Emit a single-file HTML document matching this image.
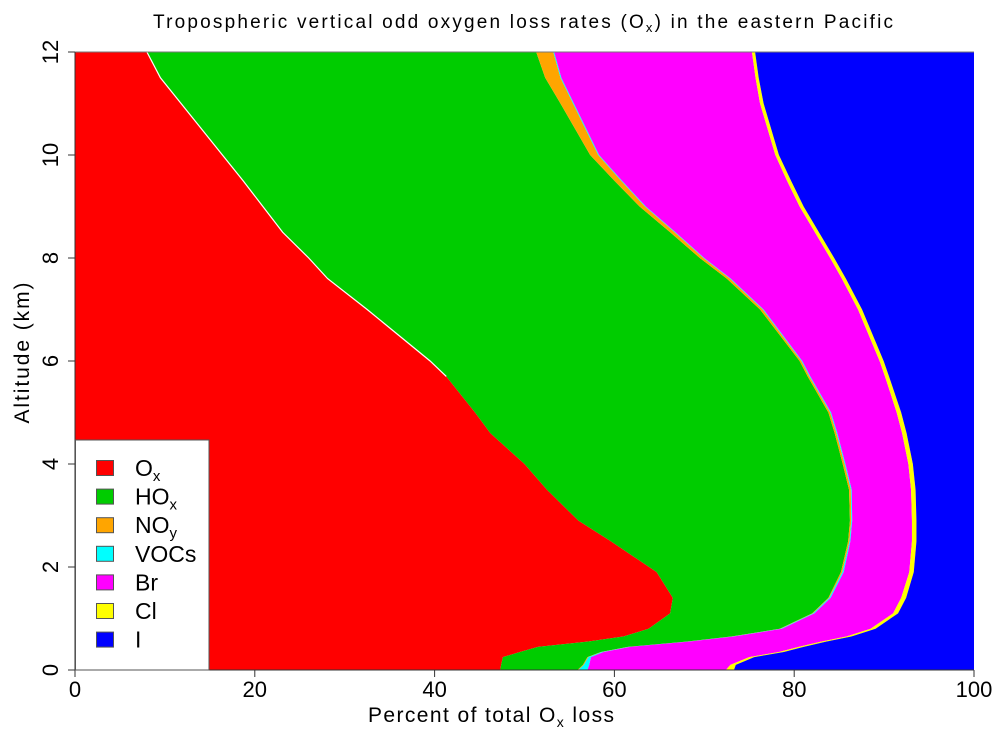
<!DOCTYPE html>
<html><head><meta charset="utf-8"><style>
body{margin:0;background:#fff;}
svg{display:block;font-family:"Liberation Sans",sans-serif;}
</style></head><body>
<svg id="chart" width="1005" height="737">
<text x="523" y="28" text-anchor="middle" font-size="19" textLength="740" lengthAdjust="spacing">Tropospheric vertical odd oxygen loss rates (O<tspan font-size="13" dy="4">x</tspan><tspan dy="-4">) in the eastern Pacific</tspan></text>
<g id="plot"></g>
<g id="axes"></g>
<text x="491" y="722" text-anchor="middle" font-size="21" textLength="246" lengthAdjust="spacing">Percent of total O<tspan font-size="14" dy="5">x</tspan><tspan dy="-5"> loss</tspan></text>
<text transform="translate(29,353) rotate(-90)" text-anchor="middle" font-size="21" textLength="141" lengthAdjust="spacing">Altitude (km)</text>
<g id="legend"></g>
</svg>
<script>
const altitudes=[0,0.1,0.25,0.35,0.45,0.55,0.65,0.8,1.1,1.4,1.9,2.5,2.9,3.5,4,4.6,5,5.7,6,7,7.6,8,8.5,9,9.5,10,11,11.5,12];
const oxLoss=[47.3,47.4,47.6,49.5,51.5,57,61,63.8,66.2,66.5,64.7,59.6,56,52.5,50,46.2,44.5,41.3,39.5,32.5,28.1,26,23.1,20.9,18.7,16.4,11.8,9.5,8.0];
const hoxLoss=[8.6,9.1,9.4,9.0,10.0,11.0,12.0,14.6,15.8,17.3,20.5,26.4,30.2,33.6,35.4,38.3,39.3,40.2,41.1,43.7,44.4,43.5,43.1,41.9,41.3,40.9,42.2,42.8,43.3];
const noyLoss=[0.1,0.1,0.1,0.1,0.1,0.1,0.1,0.1,0.1,0.1,0.15,0.15,0.15,0.2,0.2,0.2,0.2,0.2,0.2,0.3,0.35,0.4,0.5,0.6,0.75,0.9,1.4,1.7,1.9];
const vocLoss=[1.0,0.6,0.3,0.2,0.15,0.15,0.15,0.15,0.15,0.15,0.15,0.1,0.1,0.1,0.1,0.1,0.1,0.1,0.1,0.1,0.1,0.1,0.1,0.1,0.1,0.1,0.1,0.1,0.1];
const brLoss=[15.4,15.7,17.6,19.5,18.75,14.75,12.55,9.85,8.75,7.85,7.3,6.85,6.65,6.6,7.0,7.2,7.3,8.3,8.6,10.5,12.35,14.0,15.5,17.1,18.35,19.6,20.7,21.6,22.0];
const clLoss=[0.9,0.6,0.55,0.55,0.55,0.55,0.55,0.55,0.55,0.55,0.5,0.5,0.5,0.5,0.5,0.5,0.5,0.45,0.45,0.45,0.45,0.45,0.45,0.45,0.45,0.4,0.4,0.35,0.35];
const xTicks=[0,20,40,60,80,100];
const yTicks=[0,2,4,6,8,10,12];
const speciesNames=["Ox","HOx","NOy","VOCs","Br","Cl","I"];
const colors=["#ff0000","#00cc00","#ffa500","#00ffff","#ff00ff","#ffff00","#0000ff"];
const NS="http://www.w3.org/2000/svg";
const X0=75,X1=974,Y0=670,Y1=52;
const xs=v=>X0+(X1-X0)*v/100;
const ys=a=>Y0-(Y0-Y1)*a/12;
const plot=document.getElementById('plot');
function mk(tag,attrs,parent){const e=document.createElementNS(NS,tag);for(const k in attrs)e.setAttribute(k,attrs[k]);parent.appendChild(e);return e;}
const series=[oxLoss,hoxLoss,noyLoss,vocLoss,brLoss,clLoss];
let lower=altitudes.map(()=>0);
for(let s=0;s<7;s++){
  const upper=s<6?lower.map((v,i)=>v+series[s][i]):altitudes.map(()=>100);
  let pts=altitudes.map((a,i)=>xs(upper[i])+','+ys(a));
  for(let i=altitudes.length-1;i>=0;i--)pts.push(xs(lower[i])+','+ys(altitudes[i]));
  const p=mk('polygon',{points:pts.join(' '),fill:colors[s]},plot);
  
  
  lower=upper;
}
const wp=[];altitudes.forEach((a,i)=>{if(a>=5.7)wp.push(xs(oxLoss[i])+','+ys(a));});
const wl=mk('polyline',{points:wp.join(' '),fill:'none',stroke:'#fff','stroke-width':1.2},plot);


const axes=document.getElementById('axes');
const fr=mk('line',{x1:X0,y1:Y1,x2:X1,y2:Y1,stroke:'#777','stroke-width':1},axes);


mk('line',{x1:X0,y1:Y0,x2:X1,y2:Y0,stroke:'#333','stroke-width':1},axes);
mk('line',{x1:X0,y1:Y0,x2:X0,y2:Y1,stroke:'#333','stroke-width':1},axes);
xTicks.forEach(v=>{
  mk('line',{x1:xs(v),y1:Y0,x2:xs(v),y2:Y0+7,stroke:'#333'},axes);
  const t=mk('text',{x:xs(v),y:Y0+27,'text-anchor':'middle','font-size':22},axes);
  t.textContent=v;
  
  
});
yTicks.forEach(v=>{
  mk('line',{x1:X0-7,y1:ys(v),x2:X0,y2:ys(v),stroke:'#333'},axes);
  const t=mk('text',{transform:`translate(${X0-17},${ys(v)}) rotate(-90)`,'text-anchor':'middle','font-size':22},axes);
  t.textContent=v;
  
  
});
const lg=document.getElementById('legend');
mk('rect',{x:75.5,y:440,width:133.5,height:230,fill:'#fff',stroke:'#555'},lg);
const subs=[["O","x"],["HO","x"],["NO","y"],["VOCs",""],["Br",""],["Cl",""],["I",""]];
subs.forEach((s,i)=>{
  const cy=468+i*28.6;
  const r=mk('rect',{x:96.5,y:cy-7.5,width:17,height:15,fill:colors[i],stroke:'#555'},lg);
  
  
  const t=mk('text',{x:135,y:cy+8,'font-size':23},lg);
  
  
  t.appendChild(document.createTextNode(s[0]));
  if(s[1]){const ts=mk('tspan',{'font-size':15,dy:5},t);ts.textContent=s[1];}
});
</script>
</body></html>
